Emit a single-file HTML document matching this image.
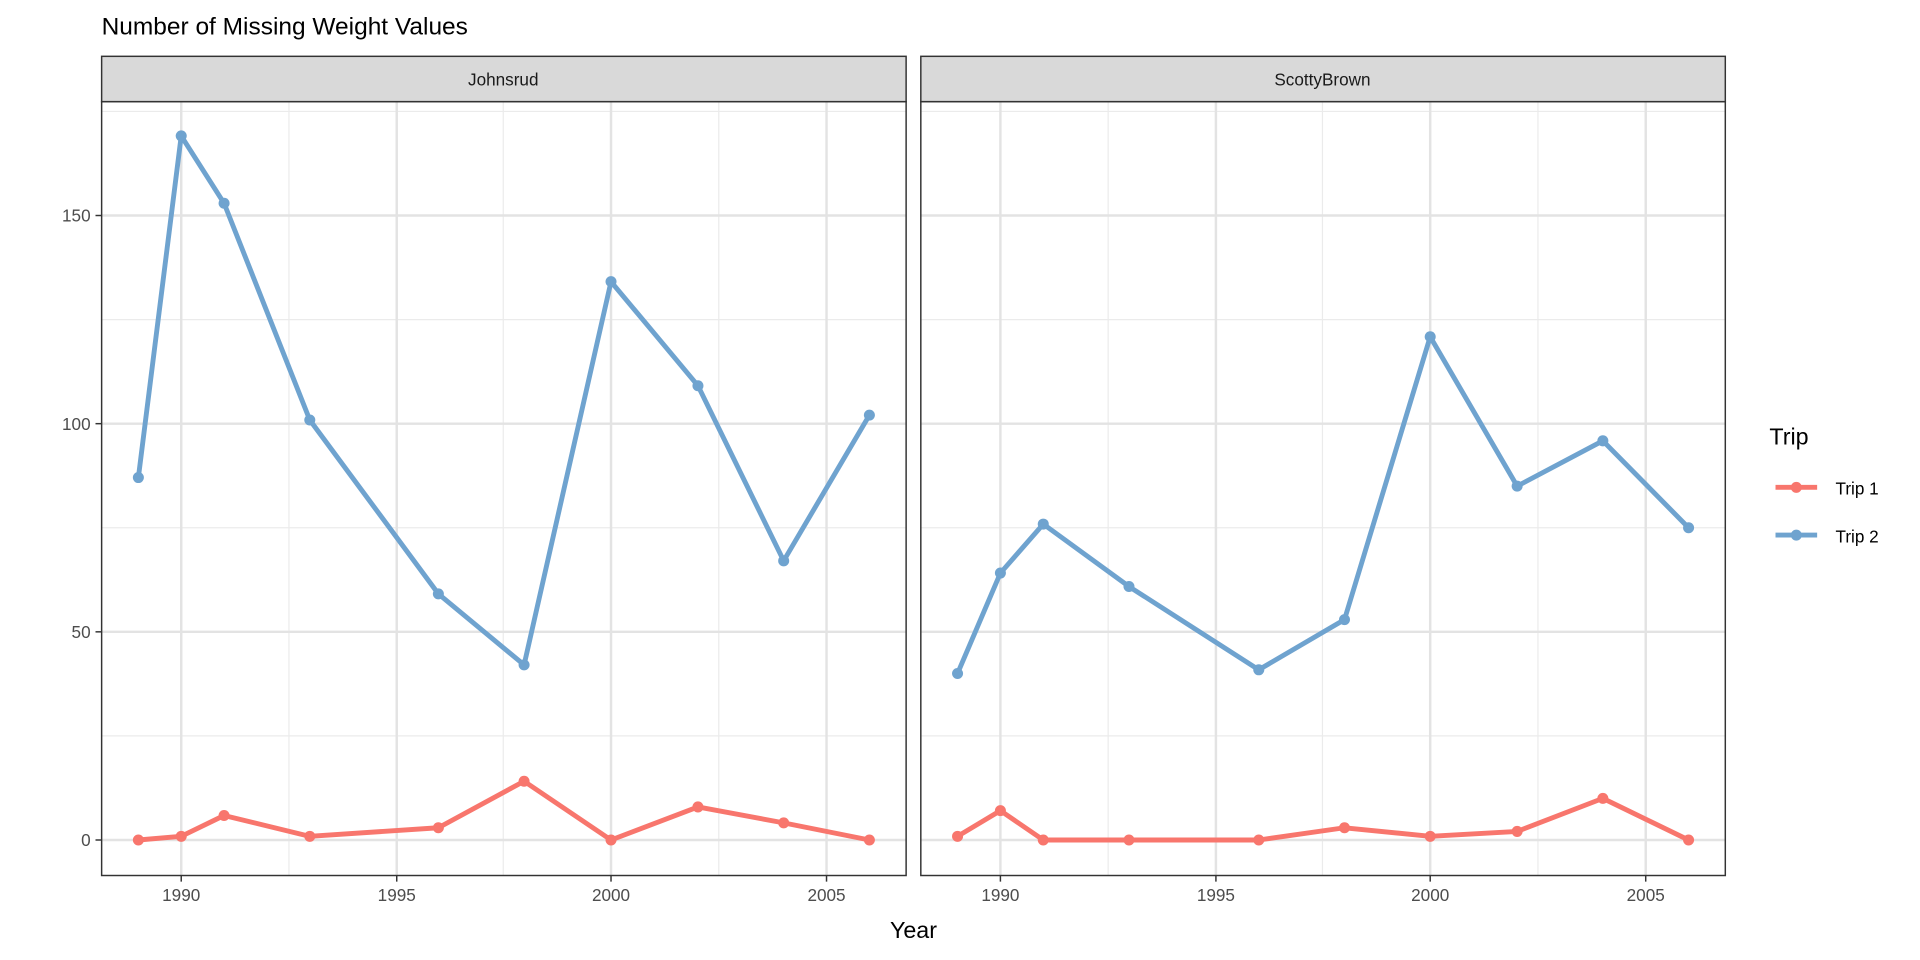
<!DOCTYPE html>
<html><head><style>html,body{margin:0;background:#fff;overflow:hidden}svg{display:block}text{font-family:"Liberation Sans",Arial,sans-serif}</style></head>
<body>
<svg width="1920" height="960" viewBox="0 0 1568 784" preserveAspectRatio="none" xmlns="http://www.w3.org/2000/svg">
<text x="83" y="28" font-size="20" fill="#000">Number of Missing Weight Values</text>
<g>
<rect x="83" y="83" width="657" height="632" fill="#fff"/>
<g stroke="#ebebeb" stroke-width="1">
<line x1="83" x2="740" y1="601" y2="601"/><line x1="83" x2="740" y1="431" y2="431"/><line x1="83" x2="740" y1="261" y2="261"/><line x1="83" x2="740" y1="91" y2="91"/>
<line y1="83" y2="715" x1="236" x2="236"/><line y1="83" y2="715" x1="411" x2="411"/><line y1="83" y2="715" x1="587" x2="587"/>
</g>
<g stroke="#e3e3e3" stroke-width="2">
<line x1="83" x2="740" y1="686" y2="686"/><line x1="83" x2="740" y1="516" y2="516"/><line x1="83" x2="740" y1="346" y2="346"/><line x1="83" x2="740" y1="176" y2="176"/>
<line y1="83" y2="715" x1="148" x2="148"/><line y1="83" y2="715" x1="324" x2="324"/><line y1="83" y2="715" x1="499" x2="499"/><line y1="83" y2="715" x1="675" x2="675"/>
</g>
<rect x="83" y="83" width="657" height="632" fill="none" stroke="#333" stroke-width="1.2"/>
<rect x="83" y="46" width="657" height="37" fill="#d9d9d9" stroke="#333" stroke-width="1.2"/>
<text x="411" y="70" font-size="14" text-anchor="middle" fill="#1a1a1a">Johnsrud</text>
</g>
<g>
<rect x="752" y="83" width="657" height="632" fill="#fff"/>
<g stroke="#ebebeb" stroke-width="1">
<line x1="752" x2="1409" y1="601" y2="601"/><line x1="752" x2="1409" y1="431" y2="431"/><line x1="752" x2="1409" y1="261" y2="261"/><line x1="752" x2="1409" y1="91" y2="91"/>
<line y1="83" y2="715" x1="905" x2="905"/><line y1="83" y2="715" x1="1080" x2="1080"/><line y1="83" y2="715" x1="1256" x2="1256"/>
</g>
<g stroke="#e3e3e3" stroke-width="2">
<line x1="752" x2="1409" y1="686" y2="686"/><line x1="752" x2="1409" y1="516" y2="516"/><line x1="752" x2="1409" y1="346" y2="346"/><line x1="752" x2="1409" y1="176" y2="176"/>
<line y1="83" y2="715" x1="817" x2="817"/><line y1="83" y2="715" x1="993" x2="993"/><line y1="83" y2="715" x1="1168" x2="1168"/><line y1="83" y2="715" x1="1344" x2="1344"/>
</g>
<rect x="752" y="83" width="657" height="632" fill="none" stroke="#333" stroke-width="1.2"/>
<rect x="752" y="46" width="657" height="37" fill="#d9d9d9" stroke="#333" stroke-width="1.2"/>
<text x="1080" y="70" font-size="14" text-anchor="middle" fill="#1a1a1a">ScottyBrown</text>
</g>
<g font-size="14" fill="#4d4d4d" text-anchor="end">
<text x="74" y="691">0</text><text x="74" y="521">50</text><text x="74" y="351">100</text><text x="74" y="181">150</text>
</g>
<g stroke="#333" stroke-width="1.2">
<line x1="78" x2="83" y1="686" y2="686"/><line x1="78" x2="83" y1="516" y2="516"/><line x1="78" x2="83" y1="346" y2="346"/><line x1="78" x2="83" y1="176" y2="176"/>
<line y1="715" y2="720" x1="148" x2="148"/><line y1="715" y2="720" x1="324" x2="324"/><line y1="715" y2="720" x1="499" x2="499"/><line y1="715" y2="720" x1="675" x2="675"/>
<line y1="715" y2="720" x1="817" x2="817"/><line y1="715" y2="720" x1="993" x2="993"/><line y1="715" y2="720" x1="1168" x2="1168"/><line y1="715" y2="720" x1="1344" x2="1344"/>
</g>
<g font-size="14" fill="#4d4d4d" text-anchor="middle">
<text x="148" y="736">1990</text><text x="324" y="736">1995</text><text x="499" y="736">2000</text><text x="675" y="736">2005</text>
<text x="817" y="736">1990</text><text x="993" y="736">1995</text><text x="1168" y="736">2000</text><text x="1344" y="736">2005</text>
</g>
<text x="746" y="766" font-size="19" text-anchor="middle" fill="#000">Year</text>
<g fill="none" stroke-width="4" stroke-linejoin="round">
<polyline stroke="#6fa3cf" points="113,390 148,111 183,166 253,343 358,485 428,543 499,230 570,315 640,458 710,339"/>
<polyline stroke="#f8766d" points="113,686 148,683 183,666 253,683 358,676 428,638 499,686 570,659 640,672 710,686"/>
<polyline stroke="#6fa3cf" points="782,550 817,468 852,428 922,479 1028,547 1098,506 1168,275 1239,397 1309,360 1379,431"/>
<polyline stroke="#f8766d" points="782,683 817,662 852,686 922,686 1028,686 1098,676 1168,683 1239,679 1309,652 1379,686"/>
</g>
<g fill="#6fa3cf">
<circle cx="113" cy="390" r="4.5"/><circle cx="148" cy="111" r="4.5"/><circle cx="183" cy="166" r="4.5"/><circle cx="253" cy="343" r="4.5"/><circle cx="358" cy="485" r="4.5"/><circle cx="428" cy="543" r="4.5"/><circle cx="499" cy="230" r="4.5"/><circle cx="570" cy="315" r="4.5"/><circle cx="640" cy="458" r="4.5"/><circle cx="710" cy="339" r="4.5"/>
<circle cx="782" cy="550" r="4.5"/><circle cx="817" cy="468" r="4.5"/><circle cx="852" cy="428" r="4.5"/><circle cx="922" cy="479" r="4.5"/><circle cx="1028" cy="547" r="4.5"/><circle cx="1098" cy="506" r="4.5"/><circle cx="1168" cy="275" r="4.5"/><circle cx="1239" cy="397" r="4.5"/><circle cx="1309" cy="360" r="4.5"/><circle cx="1379" cy="431" r="4.5"/>
</g>
<g fill="#f8766d">
<circle cx="113" cy="686" r="4.5"/><circle cx="148" cy="683" r="4.5"/><circle cx="183" cy="666" r="4.5"/><circle cx="253" cy="683" r="4.5"/><circle cx="358" cy="676" r="4.5"/><circle cx="428" cy="638" r="4.5"/><circle cx="499" cy="686" r="4.5"/><circle cx="570" cy="659" r="4.5"/><circle cx="640" cy="672" r="4.5"/><circle cx="710" cy="686" r="4.5"/>
<circle cx="782" cy="683" r="4.5"/><circle cx="817" cy="662" r="4.5"/><circle cx="852" cy="686" r="4.5"/><circle cx="922" cy="686" r="4.5"/><circle cx="1028" cy="686" r="4.5"/><circle cx="1098" cy="676" r="4.5"/><circle cx="1168" cy="683" r="4.5"/><circle cx="1239" cy="679" r="4.5"/><circle cx="1309" cy="652" r="4.5"/><circle cx="1379" cy="686" r="4.5"/>
</g>
<text x="1445" y="363" font-size="19" fill="#000">Trip</text>
<line x1="1450" x2="1484" y1="398" y2="398" stroke="#f8766d" stroke-width="4"/><circle cx="1467" cy="398" r="4.5" fill="#f8766d"/>
<text x="1499" y="404" font-size="14" fill="#000">Trip 1</text>
<line x1="1450" x2="1484" y1="437" y2="437" stroke="#6fa3cf" stroke-width="4"/><circle cx="1467" cy="437" r="4.5" fill="#6fa3cf"/>
<text x="1499" y="443" font-size="14" fill="#000">Trip 2</text>
</svg>
</body></html>
